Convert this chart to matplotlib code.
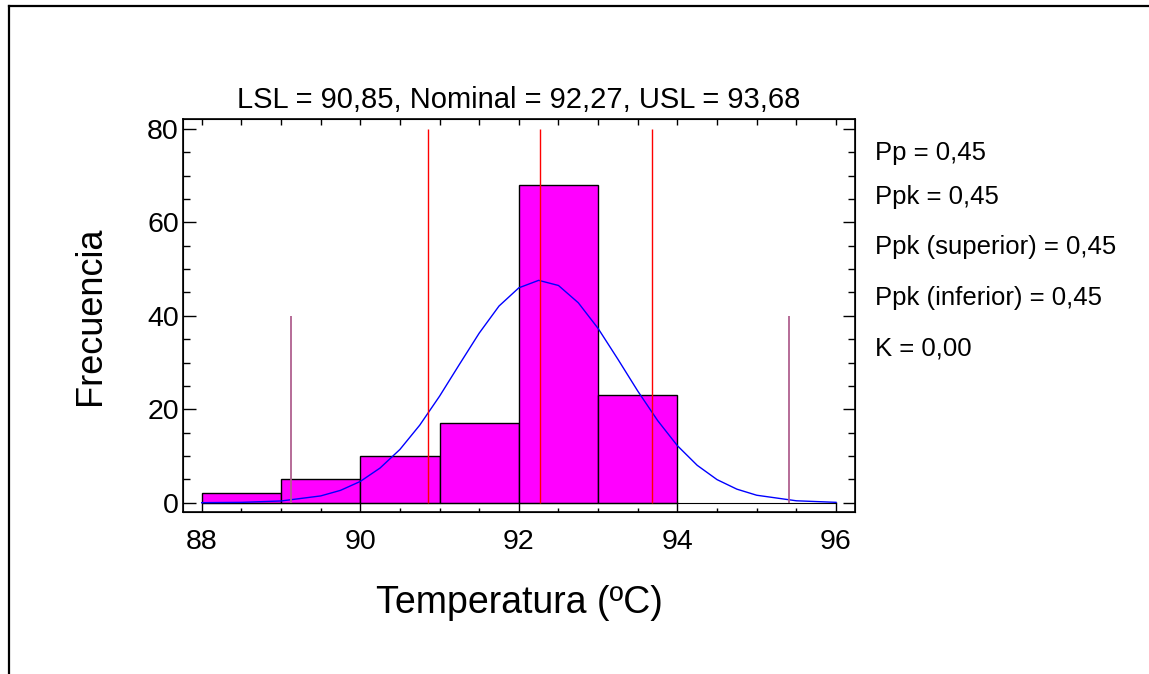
import numpy as np
import matplotlib
matplotlib.use("Agg")
import matplotlib.pyplot as plt
from matplotlib.lines import Line2D
from matplotlib.ticker import MultipleLocator

plt.rcParams["font.family"] = ["Liberation Sans", "DejaVu Sans"]

# histogram bins (left edge, width 1) and counts
BIN_LEFT = [88, 89, 90, 91, 92, 93]
COUNTS = [2, 5, 10, 17, 68, 23]

# fitted normal curve
CURVE_X = [88, 88.5, 89, 89.5, 89.75, 90, 90.25, 90.5, 90.75, 91, 91.25, 91.5,
           91.75, 92, 92.25, 92.5, 92.75, 93, 93.25, 93.5, 93.75, 94, 94.25,
           94.5, 94.75, 95, 95.5, 96]
CURVE_Y = [0.01, 0.07, 0.37, 1.45, 2.64, 4.55, 7.43, 11.4, 16.6, 22.8, 29.6, 36.3,
           42.1, 46.0, 47.6, 46.5, 42.8, 37.3, 30.7, 23.9, 17.6, 12.2, 8.0,
           4.94, 2.90, 1.60, 0.41, 0.08]

# spec limits and +/- 3 sigma
SPEC = [90.85, 92.27, 93.68]
SPEC_TOP = 80
SIGMA3 = [89.13, 95.41]
SIGMA3_TOP = 40

STATS = ["Pp = 0,45", "Ppk = 0,45", "Ppk (superior) = 0,45",
         "Ppk (inferior) = 0,45", "K = 0,00"]
STATS_Y = [153, 197, 247, 298, 349]  # pixel rows

W, H = 1149, 674
fig = plt.figure(figsize=(W / 100, H / 100), dpi=100)
ax = fig.add_axes([183 / W, 1 - 512 / H, (855 - 183) / W, (512 - 119) / H])

ax.bar(BIN_LEFT, COUNTS, width=1, align="edge", color="#ff00ff",
       edgecolor="black", linewidth=1, zorder=2)
ax.plot([88, 96], [0, 0], color="black", linewidth=0.8, zorder=3)
ax.plot(CURVE_X, CURVE_Y, color="blue", linewidth=1, zorder=4)
ax.vlines(SPEC, 0, SPEC_TOP, color="red", linewidth=1, zorder=5)
ax.vlines(SIGMA3, 0, SIGMA3_TOP, color="#b0608f", linewidth=1.3, zorder=5)

ax.set_xlim(87.764, 96.24)
ax.set_ylim(-1.99, 82.14)
ax.set_xticks([88, 90, 92, 94, 96])
ax.xaxis.set_minor_locator(MultipleLocator(0.5))
ax.set_yticks([0, 20, 40, 60, 80])
ax.yaxis.set_minor_locator(MultipleLocator(5))
ax.tick_params(axis="x", which="major", direction="in", length=7.5, width=1,
               labelsize=20.5, pad=12)
ax.tick_params(axis="x", which="minor", direction="in", length=3, width=1)
ax.tick_params(axis="y", which="major", direction="in", length=9, width=1,
               labelsize=20.5, right=True, pad=3)
ax.tick_params(axis="y", which="minor", direction="in", length=5, width=1,
               right=True)
for sp in ax.spines.values():
    sp.set_linewidth(1.2)

# top ticks, all the same length
ax2 = ax.twiny()
ax2.set_xlim(ax.get_xlim())
ax2.set_xticks(np.arange(88, 96.01, 0.5))
ax2.set_xticklabels([])
ax2.tick_params(axis="x", direction="in", length=4.5, width=1)

ax.set_xlabel("Temperatura (ºC)", fontsize=27, labelpad=22)
ax.set_ylabel("Frecuencia", fontsize=26, labelpad=28)
ax.set_title("LSL = 90,85, Nominal = 92,27, USL = 93,68", fontsize=21, pad=8)

for txt, py in zip(STATS, STATS_Y):
    fig.text(875 / W, 1 - py / H, txt, fontsize=18.5, ha="left", va="center")

# outer frame (top and left edges only)
fig.add_artist(Line2D([8.5 / W, 1], [1 - 5.5 / H, 1 - 5.5 / H],
                      color="black", linewidth=1.6, transform=fig.transFigure))
fig.add_artist(Line2D([8.5 / W, 8.5 / W], [0, 1 - 5.5 / H],
                      color="black", linewidth=1.6, transform=fig.transFigure))

fig.savefig("out.png", dpi=100)
